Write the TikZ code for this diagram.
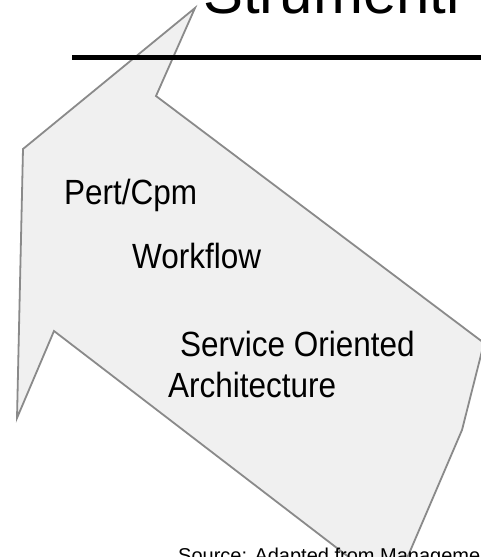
\documentclass[tikz,border=0pt]{standalone}
\usepackage{fontspec}
\setmainfont{Liberation Sans}
\newfontfamily\lblfont{Liberation Sans}[FakeStretch=0.9]
\definecolor{arrowfill}{HTML}{F0F0F0}
\definecolor{arrowline}{HTML}{8A8A8A}
\tikzset{
  lbl/.style={anchor=base west, inner sep=0pt, font=\lblfont\fontsize{35}{41}\selectfont},
}
\begin{document}
\begin{tikzpicture}[x=1pt, y=-1pt]
            \useasboundingbox (0,0) rectangle (481,557);
            \clip (0,0) rectangle (481,557);
            \fill[white] (0,0) rectangle (481,557);
            % big arrow
            \draw[fill=arrowfill, draw=arrowline, line width=1.8pt, line join=miter]
              (195,8) -- (23,149) -- (17,418) -- (54,331) -- (393,591)
              -- (462,430) -- (484,343) -- (156,96) -- cycle;
            % title rule
            \draw[line width=4.5pt] (72,57.5) -- (490,57.5);
            \node(title) at (203,13) [anchor=base west, inner sep=0pt, font=\fontsize{60}{70}\selectfont]{Strumenti};
            \node(pert) at (64,204) [lbl]{Pert/Cpm};
            \node(wf) at (132,268) [lbl]{Workflow};
            \node(soa) at (180,356) [lbl]{Service Oriented};
            \node(arch) at (168,397) [lbl]{Architecture};
            \node(src) at (178,562) [anchor=base west, inner sep=0pt, font=\fontsize{20}{24}\selectfont]{Source: Adapted from Management};
        \end{tikzpicture}
\end{document}
